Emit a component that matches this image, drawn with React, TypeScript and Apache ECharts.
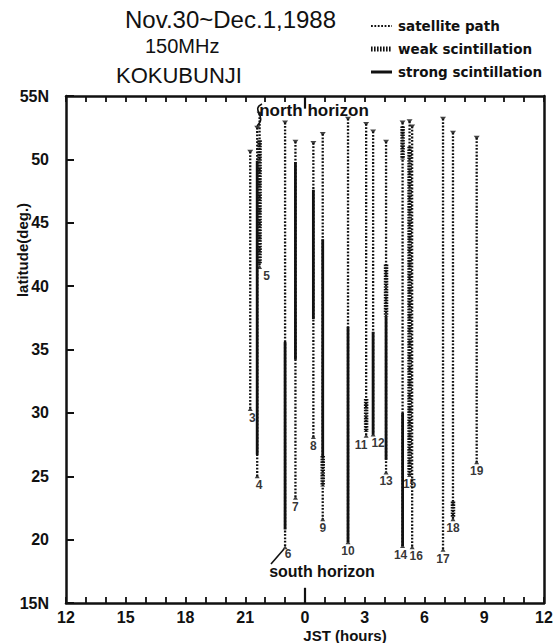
import React, { useEffect, useRef } from 'react';
import * as echarts from 'echarts';

// ---- data ----
const passNo = [3, 4, 5, 6, 7, 8, 9, 10, 11, 12, 13, 14, 15, 16, 17, 18, 19];
// JST clock hour of each pass
const passJST = [21.25, 21.6, 21.72, 23.0, 23.52, 0.42, 0.89, 2.16, 3.07, 3.42, 4.07, 4.9, 5.25, 5.38, 6.93, 7.43, 8.62];
const passNorthLat = [50.6, 52.5, 53.6, 52.9, 51.4, 51.3, 52.0, 53.2, 52.8, 52.2, 51.4, 52.9, 53.0, 52.6, 53.2, 52.1, 51.7];
const passSouthLat = [30.3, 25.0, 41.5, 19.4, 23.3, 28.1, 21.6, 19.8, 28.2, 28.3, 25.3, 19.5, 25.1, 19.4, 19.2, 21.6, 26.1];

const strongPass = [4, 6, 7, 8, 9, 10, 12, 13, 14];
const strongNorth = [49.9, 35.6, 49.8, 47.6, 43.7, 36.8, 36.4, 37.6, 30.0];
const strongSouth = [26.7, 20.8, 34.2, 37.4, 26.6, 19.8, 28.3, 26.3, 19.5];

const weakPass = [5, 9, 11, 13, 14, 15, 18];
const weakNorth = [51.5, 26.6, 31.1, 41.7, 52.6, 51.0, 23.0];
const weakSouth = [41.8, 24.2, 28.5, 37.6, 50.0, 25.1, 21.8];

const xTickHours = [12, 15, 18, 21, 0, 3, 6, 9, 12];
const legendNames = ['satellite path', 'weak scintillation', 'strong scintillation'];
const titleLines = ['Nov.30~Dec.1,1988', '150MHz', 'KOKUBUNJI'];

const FONT = "'Liberation Sans', Arial, Helvetica, sans-serif";
const LEGEND_FONT = "'DejaVu Sans', sans-serif";
const INK = '#111';

const toAxisHour = (h: number) => (h < 12 ? h + 24 : h);
const passIndex = (n: number) => passNo.indexOf(n);

const PATH_DASH = [1.8, 1.6];
const WEAK_DASH = [1.6, 1.1];

export default function App() {
  const ref = useRef<HTMLDivElement>(null);

  useEffect(() => {
    document.body.style.margin = '0';
    const chart = echarts.init(ref.current!, null, { renderer: 'svg' });

    const pathStyle = { color: INK, width: 2.3, type: PATH_DASH as any };
    const weakStyle = { color: INK, width: 4.5, type: WEAK_DASH as any };
    const strongStyle = { color: INK, width: 2.8, type: 'solid' as any };

    const series: any[] = [];
    passNo.forEach((n, i) => {
      const x = toAxisHour(passJST[i]);
      series.push({
        type: 'line', name: legendNames[0], symbol: 'none', silent: true, z: 2,
        lineStyle: pathStyle, itemStyle: { color: INK },
        data: [[x, passNorthLat[i]], [x, passSouthLat[i]]],
      });
    });
    weakPass.forEach((n, j) => {
      const x = toAxisHour(passJST[passIndex(n)]);
      series.push({
        type: 'line', name: legendNames[1], symbol: 'none', silent: true, z: 3,
        lineStyle: weakStyle, itemStyle: { color: INK },
        data: [[x, weakNorth[j]], [x, weakSouth[j]]],
      });
    });
    strongPass.forEach((n, j) => {
      const x = toAxisHour(passJST[passIndex(n)]);
      series.push({
        type: 'line', name: legendNames[2], symbol: 'none', silent: true, z: 4,
        lineStyle: strongStyle, itemStyle: { color: INK },
        data: [[x, strongNorth[j]], [x, strongSouth[j]]],
      });
    });
    // north ends
    series.push({
      type: 'scatter', symbol: 'triangle', symbolRotate: 180, symbolSize: [6, 4], silent: true, z: 5,
      itemStyle: { color: INK },
      data: passNo.map((n, i) => [toAxisHour(passJST[i]), passNorthLat[i]]),
    });
    // south ends with pass numbers
    const labelOffset: Record<number, number[]> = {
      3: [2, 0], 4: [2, 0], 5: [7, 0], 6: [3, -2], 11: [-5, 0], 12: [5, 0], 14: [-2, 0], 16: [4, 0],
    };
    series.push({
      type: 'scatter', symbol: 'triangle', symbolSize: [5, 4], silent: true, z: 5,
      itemStyle: { color: INK },
      label: {
        show: true, position: 'bottom', distance: 1, color: '#000',
        fontFamily: FONT, fontWeight: 'bold', fontSize: 12,
        formatter: (p: any) => String(passNo[p.dataIndex]),
      },
      data: passNo.map((n, i) => ({
        value: [toAxisHour(passJST[i]), passSouthLat[i]],
        label: { offset: labelOffset[n] || [0, 0] },
      })),
    });
    // long ticks at 0 JST
    series.push({
      type: 'line', symbol: 'none', silent: true, z: 6,
      lineStyle: { color: INK, width: 2.2 }, data: [[24, 15], [24, 16.2]],
    });
    series.push({
      type: 'line', symbol: 'none', silent: true, z: 6,
      lineStyle: { color: INK, width: 2.2 }, data: [[24, 55], [24, 54]],
    });

    const axisLine = { show: true, lineStyle: { color: INK, width: 2.5 } };

    const legendRows = [26, 49, 72];
    const legendGraphics: any[] = [];
    const legendLineStyles = [
      { lineWidth: 2.2, lineDash: PATH_DASH },
      { lineWidth: 5, lineDash: [1.6, 1.4] },
      { lineWidth: 3 },
    ];
    legendNames.forEach((name, i) => {
      legendGraphics.push({
        type: 'line', shape: { x1: 371, y1: legendRows[i], x2: 392, y2: legendRows[i] },
        style: { stroke: INK, ...legendLineStyles[i] },
      });
      legendGraphics.push({
        type: 'text', x: 398, y: legendRows[i],
        style: { text: name, fill: INK, fontFamily: LEGEND_FONT, fontWeight: 'bold', fontSize: 13.5, textAlign: 'left', textVerticalAlign: 'middle' },
      });
    });

    chart.setOption({
      animation: false,
      backgroundColor: '#fff',
      grid: { left: 66, right: 16, top: 96, bottom: 40 },
      xAxis: [
        {
          type: 'value', position: 'bottom', min: 12, max: 36, interval: 1,
          axisLine, splitLine: { show: false },
          axisTick: { show: true, inside: true, length: 6, lineStyle: { color: INK, width: 1.8 } },
          axisLabel: {
            margin: 6, color: INK, fontFamily: FONT, fontWeight: 'bold', fontSize: 16,
            showMinLabel: true, showMaxLabel: true,
            formatter: (v: number) => {
              const k = Math.round(v - 12);
              return k % 3 === 0 ? String(xTickHours[k / 3]) : '';
            },
          },
        },
        {
          type: 'value', position: 'top', min: 12, max: 36, interval: 1,
          axisLine, splitLine: { show: false }, axisLabel: { show: false },
          axisTick: { show: true, inside: true, length: 6, lineStyle: { color: INK, width: 1.8 } },
        },
      ],
      yAxis: [
        {
          type: 'value', position: 'left', min: 15, max: 55, interval: 5,
          axisLine, splitLine: { show: false },
          axisTick: { show: true, inside: true, length: 8, lineStyle: { color: INK, width: 2 } },
          axisLabel: {
            margin: 17, color: INK, fontFamily: FONT, fontWeight: 'bold', fontSize: 16,
            formatter: (v: number) => (v === 55 || v === 15 ? `${v}N` : String(v)),
          },
        },
        {
          type: 'value', position: 'right', min: 15, max: 55, interval: 5,
          axisLine, splitLine: { show: false }, axisTick: { show: false }, axisLabel: { show: false },
        },
      ],
      series,
      graphic: [
        { type: 'text', x: 125, y: 19, style: { text: titleLines[0], fill: INK, fontFamily: FONT, fontSize: 24, textAlign: 'left', textVerticalAlign: 'middle' } },
        { type: 'text', x: 145, y: 46, style: { text: titleLines[1], fill: INK, fontFamily: FONT, fontSize: 20, textAlign: 'left', textVerticalAlign: 'middle' } },
        { type: 'text', x: 116, y: 75, style: { text: titleLines[2], fill: INK, fontFamily: FONT, fontSize: 22, textAlign: 'left', textVerticalAlign: 'middle' } },
        ...legendGraphics,
        { type: 'text', x: 314, y: 110, z: 10, style: { text: 'north horizon', fill: INK, fontFamily: FONT, fontWeight: 'bold', fontSize: 17, textAlign: 'center', textVerticalAlign: 'middle' } },
        { type: 'text', x: 322, y: 571, z: 10, style: { text: 'south horizon', fill: INK, fontFamily: FONT, fontWeight: 'bold', fontSize: 16, textAlign: 'center', textVerticalAlign: 'middle' } },
        { type: 'text', x: 22, y: 250, rotation: Math.PI / 2, style: { text: 'latitude(deg.)', fill: INK, fontFamily: FONT, fontWeight: 'bold', fontSize: 15, textAlign: 'center', textVerticalAlign: 'middle' } },
        { type: 'text', x: 345, y: 635, style: { text: 'JST (hours)', fill: INK, fontFamily: FONT, fontWeight: 'bold', fontSize: 15, textAlign: 'center', textVerticalAlign: 'middle' } },
        { type: 'bezierCurve', z: 10, shape: { x1: 262, y1: 104, cpx1: 250, cpy1: 110, cpx2: 268, cpy2: 116, x2: 257, y2: 126 }, style: { stroke: INK, lineWidth: 1.6, fill: 'none' } },
        { type: 'line', z: 10, shape: { x1: 271, y1: 564, x2: 284, y2: 549 }, style: { stroke: INK, lineWidth: 1.6 } },
      ],
    });

    return () => chart.dispose();
  }, []);

  return <div ref={ref} style={{ width: 560, height: 643 }} />;
}
